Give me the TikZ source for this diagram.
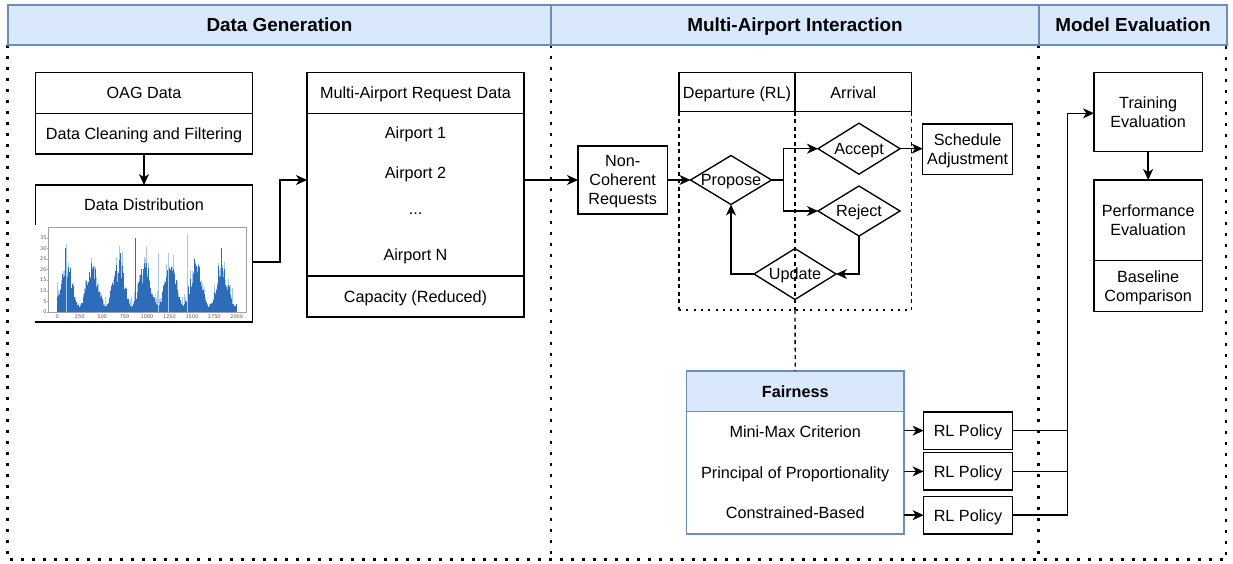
\documentclass[tikz,border=0pt]{standalone}
\usepackage{fontspec}
\setmainfont{Liberation Sans}
\newfontfamily\tickfam{DejaVu Sans}
\usetikzlibrary{shapes.geometric,arrows.meta,calc}
\definecolor{hdrfill}{HTML}{DAE8FC}
\definecolor{hdrline}{HTML}{6C8EBF}
\definecolor{bardark}{RGB}{44,108,186}
\definecolor{barlight}{RGB}{168,200,232}
\definecolor{axisgray}{RGB}{160,160,160}
\definecolor{ticktext}{RGB}{90,90,90}
\newcommand\bodyfont{\fontsize{16.2}{19.4}\selectfont}
\newcommand\titlefont{\fontsize{18.9}{22}\selectfont\bfseries}
\newcommand\tickfont{\tickfam\fontsize{5}{6}\selectfont}
\tikzset{
  every node/.style={outer sep=0pt},
  box/.style={draw, line width=1.35pt, inner sep=0pt, align=center, font=\bodyfont, text depth=0pt},
  cell/.style={inner sep=0pt, align=center, font=\bodyfont, text depth=0pt},
  hdr/.style={draw=hdrline, fill=hdrfill, line width=1.35pt, inner sep=0pt, font=\titlefont, text depth=0pt},
  fairhdr/.style={draw=hdrline, fill=hdrfill, line width=1.35pt, inner sep=0pt, font=\bodyfont\bfseries, text depth=0pt},
  decision/.style={diamond, draw, line width=1.35pt, inner sep=0pt, font=\bodyfont, text depth=0pt},
  arr/.style={line width=1.35pt, -{Stealth[length=11pt,width=10pt,inset=3.3pt]}},
  link/.style={line width=1.35pt},
  zone/.style={line width=2.7pt, dash pattern=on 2.7pt off 8.3pt},
  lane/.style={line width=1.35pt, dash pattern=on 4pt off 3.5pt},
  lanefoot/.style={line width=2pt, dash pattern=on 2pt off 5.3pt},
  tick/.style={inner sep=0pt, font=\tickfont, text=ticktext},
}
\begin{document}
\begin{tikzpicture}[x=1pt,y=-1pt]
\useasboundingbox (0,0) rectangle (1233,563);

% dotted section frames
\draw[zone] (7.5,45) -- (7.5,559.5) -- (1226,559.5) -- (1226,45);
\draw[zone] (551,45) -- (551,559.5);
\draw[zone] (1038.5,45) -- (1038.5,559.5);

% section headers
\node[hdr, minimum width=543pt, minimum height=40pt] (hdrA) at (279.5,25) {Data Generation};
\node[hdr, minimum width=488pt, minimum height=40pt] (hdrB) at (795,25) {Multi-Airport Interaction};
\node[hdr, minimum width=188pt, minimum height=40pt] (hdrC) at (1133,25) {Model Evaluation};

% ---------- data generation ----------
\node[box, minimum width=217pt, minimum height=40.6pt] (oag) at (144,93) {OAG Data};
\node[box, minimum width=217pt, minimum height=40.7pt] (clean) at (144,133.65) {Data Cleaning and Filtering};
\node[box, minimum width=217pt, minimum height=137pt] (dist) at (144,253.5) {};
\node[cell] (distlabel) at (144,205) {Data Distribution};

% bar chart of the request distribution (weekly cycle plus noise)
\fill[white] (34.5,225) rectangle (249.5,320.6);
\pgfmathsetseed{11}
\foreach \i in {0,...,180}{
  \pgfmathsetmacro\bx{57.3+0.997*\i}
  \pgfmathsetmacro\env{11.5+10*cos(12.4138*\i*1.1111-124.138)}
  \pgfmathsetmacro\ra{rnd}
  \pgfmathsetmacro\rb{rnd}
  \pgfmathsetmacro\hd{max(0.8,\env*(0.6+0.55*\ra)+1.5)}
  \pgfmathsetmacro\hl{\hd+8*\rb*\rb*\rb}
  \fill[barlight] (\bx-0.42,312) rectangle (\bx+0.42,312-2.12*\hl);
  \fill[bardark] (\bx-0.42,312) rectangle (\bx+0.42,312-2.12*\hd);
}
\foreach \x/\v/\c in {100/32/barlight, 90/30/bardark, 870/35/bardark, 1450/37/barlight, 1830/30/bardark, 1130/28/barlight, 1240/28/barlight, 700/28/bardark}{
  \fill[\c] (57.3+0.0897*\x-0.42,312) rectangle (57.3+0.0897*\x+0.42,312-2.12*\v);
}
\draw[axisgray, line width=0.6pt] (48.7,227) rectangle (246.7,312);
\foreach \v in {0,5,...,35}{
  \draw[axisgray, line width=0.4pt] (48.7,312-2.12*\v) -- (47.4,312-2.12*\v);
  \node[tick, anchor=east] (yt\v) at (46.6,312-2.12*\v) {\v};
}
\foreach \v in {0,250,...,2000}{
  \draw[axisgray, line width=0.4pt] (57.3+0.0897*\v,312) -- (57.3+0.0897*\v,313.3);
  \node[tick, anchor=north] (xt\v) at (57.3+0.0897*\v,314.3) {\v};
}

% request data table
\node[box, minimum width=217pt, minimum height=40.6pt] (multititle) at (415.5,93) {Multi-Airport Request Data};
\node[box, minimum width=217pt, minimum height=162.7pt] (multibody) at (415.5,194.65) {};
\node[box, minimum width=217pt, minimum height=41pt] (cap) at (415.5,296.5) {Capacity (Reduced)};
\node[cell] (a1) at (415.5,133) {Airport 1};
\node[cell] (a2) at (415.5,173) {Airport 2};
\node[cell] (adots) at (415.5,214) {...};
\node[cell] (aN) at (415.5,255) {Airport N};

\coordinate (jog) at (280,180);
\draw[arr] (clean.south) -- (dist.north);
\draw[arr] ([yshift=-8.5pt]dist.east) -| (jog) -- (multibody.west |- jog);

% ---------- multi-airport interaction ----------
\node[box, minimum width=89.3pt, minimum height=68pt] (noncoh) at (622.65,180) {Non-\\Coherent\\Requests};
\draw[arr] (multibody.east |- noncoh.west) -- (noncoh.west);

% swimlane
\node[box, minimum width=116pt, minimum height=39pt] (dep) at (737,92.2) {Departure (RL)};
\node[box, minimum width=116.7pt, minimum height=39pt] (arrv) at (853.35,92.2) {Arrival};
\coordinate (laneBL) at (679,310);
\coordinate (laneBC) at (795,310);
\coordinate (laneBR) at (911.7,310);
\draw[lane] (dep.south west) -- (laneBL);
\draw[lane] (dep.south east) -- (laneBC);
\draw[lane] (arrv.south east) -- (laneBR);
\draw[lanefoot] (laneBL) -- (laneBR);

\node[decision, minimum width=81pt, minimum height=49pt] (propose) at (731,180) {\makebox[0pt]{Propose}};
\node[decision, minimum width=82pt, minimum height=51pt] (accept) at (859,148.7) {\makebox[0pt]{Accept}};
\node[decision, minimum width=82pt, minimum height=50pt] (reject) at (859,211) {\makebox[0pt]{Reject}};
\node[decision, minimum width=82pt, minimum height=51pt] (update) at (795,274) {\makebox[0pt]{Update}};
\node[box, minimum width=90pt, minimum height=50.3pt] (sched) at (967.7,149.15) {Schedule\\Adjustment};

\draw[arr] (noncoh.east) -- (propose.west);
\draw[arr] (propose.east) -- ++(11.8,0) |- (accept.west);
\draw[arr] (propose.east) -- ++(11.8,0) |- (reject.west);
\draw[arr] (accept.east) -- (sched.west |- accept.east);
\draw[arr] (reject.south) |- (update.east);
\draw[arr] (update.west) -| (propose.south);

% fairness table
\node[fairhdr, minimum width=217.5pt, minimum height=40.7pt] (fairhead) at (795.25,391.35) {Fairness};
\node[draw=hdrline, fill=white, line width=1.35pt, inner sep=0pt, minimum width=217.5pt, minimum height=122.3pt] (fairbody) at (795.25,472.85) {};
\node[cell] (mm) at (795.25,431.7) {Mini-Max Criterion};
\node[cell] (pp) at (795.25,472.3) {Principal of Proportionality};
\node[cell] (cb) at (795.25,512.3) {Constrained-Based};
\draw[lane] (laneBC) -- (fairhead.north);

\node[box, minimum width=88.8pt, minimum height=37.3pt] (rl1) at (968,430.65) {RL Policy};
\node[box, minimum width=88.8pt, minimum height=37.3pt] (rl2) at (968,471.35) {RL Policy};
\node[box, minimum width=88.8pt, minimum height=37.7pt] (rl3) at (968,515.15) {RL Policy};
\draw[arr] (fairbody.east |- rl1.west) -- (rl1.west);
\draw[arr] (fairbody.east |- rl2.west) -- (rl2.west);
\draw[arr] (fairbody.east |- rl3.west) -- (rl3.west);

% ---------- model evaluation ----------
\node[box, minimum width=108.3pt, minimum height=79pt] (train) at (1148.15,112.2) {Training\\Evaluation};
\node[box, minimum width=108.3pt, minimum height=80.7pt] (perf) at (1148.15,220.35) {Performance\\Evaluation};
\node[box, minimum width=108.3pt, minimum height=51pt] (base) at (1148.15,286.2) {Baseline\\Comparison};
\draw[arr] (train.south) -- (perf.north);

\coordinate (bus) at (1067.5,113.3);
\draw[link] (rl1.east) -- (rl1.east -| bus);
\draw[link] (rl2.east) -- (rl2.east -| bus);
\draw[arr] (rl3.east) -| (bus) -- (train.west |- bus);
\end{tikzpicture}
\end{document}
